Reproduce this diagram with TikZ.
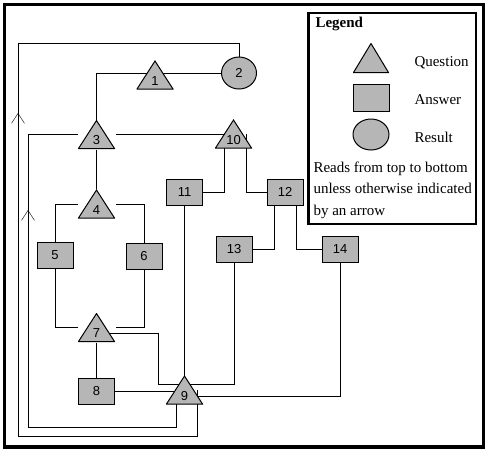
\documentclass[tikz,border=0pt]{standalone}
\usepackage{fontspec}
\setmainfont{Liberation Serif}
\newfontfamily\numfont{Liberation Sans}
\usetikzlibrary{shapes.geometric,arrows.meta,backgrounds,decorations.markings}
\definecolor{shapegray}{RGB}{182,182,182}
\newcommand\legfont{\fontsize{15}{21.5}\selectfont}
\newcommand\numlabel{\numfont\fontsize{13}{13}\selectfont}

\begin{document}
\begin{tikzpicture}[
    x=1pt, y=-1pt,
    line width=1pt,
    quest/.style={rectangle, minimum width=37pt, minimum height=29pt,
                  inner sep=0pt, text height=20pt, text depth=0pt, font=\numlabel,
                  path picture={\filldraw[fill=shapegray, line width=1pt]
                      ([yshift=-0.5pt]path picture bounding box.north)
                      -- ([shift={(-0.5pt,0.5pt)}]path picture bounding box.south east)
                      -- ([shift={(0.5pt,0.5pt)}]path picture bounding box.south west)
                      -- cycle;}},
    answer/.style={rectangle, draw, fill=shapegray, minimum width=36pt,
                   minimum height=26pt, inner sep=0pt, font=\numlabel},
    result/.style={ellipse, draw, fill=shapegray, minimum width=35pt,
                   minimum height=32pt, inner sep=0pt, font=\numlabel},
    legtext/.style={anchor=base west, inner sep=0pt, font=\legfont},
    uparrow/.style={postaction={decorate},
                    decoration={markings, mark=at position #1 with
                      {\arrow{Straight Barb[length=10pt,width=13pt]}}}}
  ]
  \useasboundingbox (0,0) rectangle (487,451);
  \draw[line width=3.5pt] (4.5,4.5) rectangle (483.5,447);

  % questions, answers, results
  \node[quest] (n1) at (155,75) {1};
  \node[result] (n2) at (239,73) {2};
  \node[quest] (n3) at (96.5,134.5) {3};
  \node[quest] (n4) at (96.5,204) {4};
  \node[answer] (n5) at (55,255) {5};
  \node[answer] (n6) at (144,256) {6};
  \node[quest] (n7) at (96.5,327.5) {7};
  \node[answer] (n8) at (96.5,391) {8};
  \node[quest] (n9) at (184.5,390) {9};
  \node[quest] (n10) at (233.5,134) {10};
  \node[answer] (n11) at (184.5,192) {11};
  \node[answer] (n12) at (285,192) {12};
  \node[answer] (n13) at (234,249) {13};
  \node[answer] (n14) at (340,249) {14};

  \coordinate (loopin) at (28,427);
  \coordinate (loopout) at (18,436);
  \coordinate (looptop) at (18,43);

  \begin{scope}[on background layer]
    \draw (n2) -- (n2 -| n3) -- (n3);
    \draw (n3) -- (n3 -| n10);
    \draw (n3) -- (n4);
    \draw (n4) -| (n5);
    \draw (n4) -| (n6);
    \draw (n5) |- (n7);
    \draw (n6) |- (n7);
    \draw (n7) -- (n8);
    \draw ([yshift=-5.5pt]n7.center) -- ++(61.5,0) |- ([yshift=6pt]n9.center);
    \draw (n8) -- (n8 -| n9);
    \draw (n11) -- (n11 |- n9);
    \draw (n13) |- ([yshift=6pt]n9.center);
    \draw (n14) |- ([yshift=-6pt]n9.center);
    \draw ([xshift=-9.5pt]n10.center) |- (n11);
    \draw ([xshift=12.5pt]n10.center) |- (n12);
    \draw ([xshift=-11pt]n12.center) |- (n13);
    \draw ([xshift=11pt]n12.center) |- (n14);
    \draw[uparrow=402pt] ([xshift=-8.5pt]n9.center) |- (loopin) |- (n3);
    \draw[uparrow=548pt] ([xshift=12.5pt]n9.center) |- (loopout) -- (looptop) -| (n2);
  \end{scope}

  % legend
  \node[draw, line width=2.5pt, minimum width=167.5pt, minimum height=211pt,
        inner sep=0pt] (legend) at (392.25,118.5) {};
  \node[legtext, font=\legfont\bfseries] (legtitle) at (315,27) {Legend};
  \node[quest, minimum width=36pt, minimum height=30pt] (legq) at (371,58) {};
  \node[answer, minimum height=27pt] (lega) at (371,97.5) {};
  \node[result, minimum width=36pt, minimum height=31pt] (legr) at (371,134.5) {};
  \node[legtext] (legqtext) at (414,66) {Question};
  \node[legtext] (legatext) at (414,104) {Answer};
  \node[legtext] (legrtext) at (414,142) {Result};
  \node[anchor=north west, align=left, inner sep=0pt, font=\legfont] (legnote)
        at (313,161) {Reads from top to bottom\\unless otherwise indicated\\by an arrow};
\end{tikzpicture}
\end{document}
